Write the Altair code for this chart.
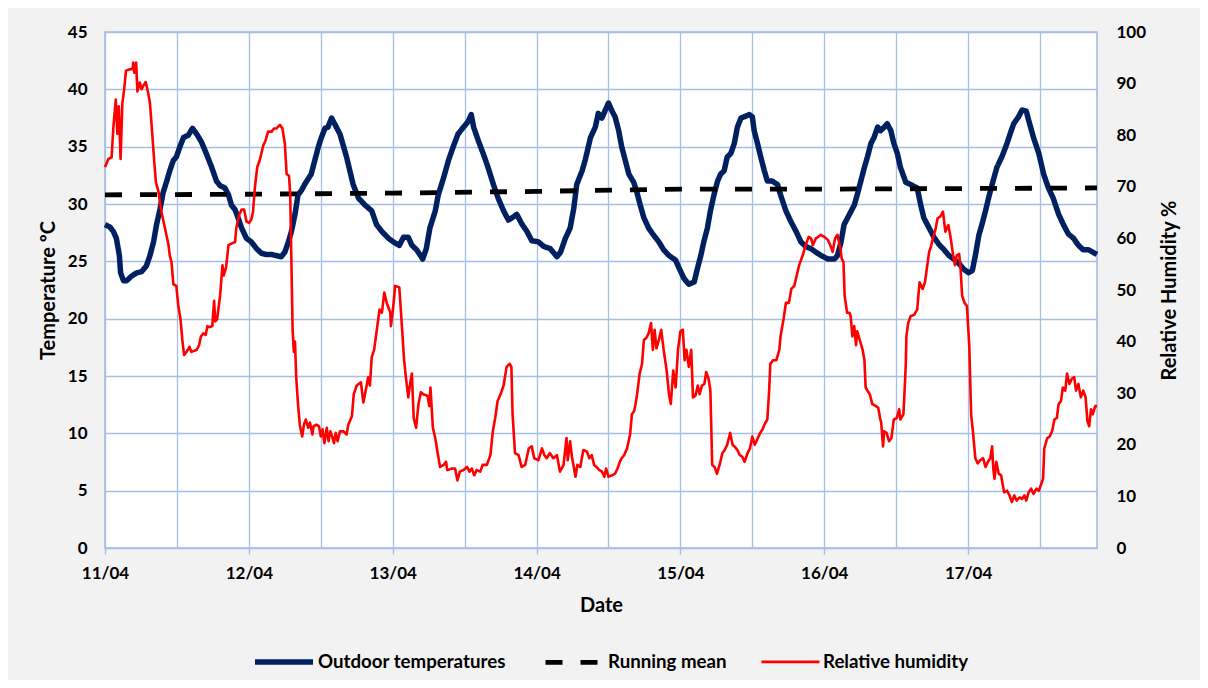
import json
import altair as alt
import pandas as pd

# ---------------- data (hours since 11/04 00:00) ----------------
TEMP_H = [
    0, 0.8, 1.4, 1.9, 2.4, 2.6, 3.1, 3.6, 4.4, 5.3,
    6.1, 6.9, 7.5, 8.1, 8.6, 9.2, 9.7, 10.3, 10.8, 11.4,
    11.9, 12.5, 13.1, 13.9, 14.6, 15.3, 16.1, 16.9, 17.8, 18.6,
    19.2, 20, 20.6, 21.1, 21.7, 22.2, 22.8, 23.6, 24.4, 25.3,
    26.1, 26.9, 27.8, 28.6, 29.4, 30, 30.6, 31.1, 31.7, 32.2,
    32.8, 33.3, 33.9, 34.4, 35, 35.6, 36.1, 36.7, 37.2, 37.8,
    38.3, 39.2, 40.3, 41.4, 42.3, 43.4, 44.5, 45.3, 46.2, 47.3,
    48.1, 49.1, 49.8, 50.6, 51.2, 52, 53, 53.6, 54.2, 55.1,
    55.6, 56.5, 57.3, 58.1, 58.9, 59.8, 60.6, 61.1, 61.5, 62.3,
    63.1, 63.9, 64.8, 65.6, 66.5, 67.3, 68.2, 68.7, 69.5, 70.4,
    71.2, 72.3, 73.2, 74.3, 75.4, 76, 76.8, 77.6, 78.2, 78.7,
    79.6, 80.1, 81,
    81.8, 82.3, 82.9, 83.4, 84, 84.6, 85.1, 85.7, 86.2, 86.8,
    87.4, 88.2, 88.7, 89.3, 89.9, 90.7, 91.5, 92.4, 93.2, 94.1,
    95.2, 95.7, 96.6, 97.4, 98.3, 98.8, 99.4, 99.9, 100.5, 101,
    101.6, 102.2, 102.7, 103.3, 103.8, 104.4, 105, 105.5, 106.1, 106.6,
    107.5, 108, 108.3, 108.8, 109.4, 110, 110.5, 111.3, 112.2, 112.7,
    113.6, 114.4, 115.3, 116.1, 116.9, 117.8, 118.6, 119.5,
    120.6, 121.7, 122.2, 122.8, 123.3, 124.2, 125, 125.5, 126.1, 126.7,
    127.2, 127.8, 128.3, 128.9, 129.4, 130, 130.5, 131.1, 131.6, 132.2,
    132.7, 133.6, 134.4, 135.5, 136.1, 136.6, 137.5, 138.3, 139.1, 140,
    140.8, 141.6, 142.5, 143.3, 144.1, 144.7, 145.2, 145.8, 146.3, 146.9,
    147.4, 148, 148.8, 149.7, 150.5, 151, 151.6, 152.4, 153, 153.7,
    154.1, 154.9, 155.8, 156.6, 157.4, 158.2, 159.1, 159.9, 160.7, 161.6,
    162.4, 163.2, 164.1, 165.5,
]
TEMP_V = [
    28.2, 28.0, 27.6, 27.0, 25.5, 24.0, 23.3, 23.3, 23.7, 24.0,
    24.1, 24.6, 25.5, 26.7, 28.2, 29.6, 31.0, 32.0, 32.9, 33.8,
    34.1, 35.0, 35.8, 36.0, 36.6, 36.1, 35.4, 34.4, 33.2, 32.0,
    31.6, 31.4, 30.8, 29.9, 29.5, 28.8, 27.9, 27.0, 26.7, 26.1,
    25.7, 25.6, 25.6, 25.5, 25.4, 25.8, 26.7, 27.6, 29.1, 30.8,
    31.2, 31.7, 32.2, 32.6, 33.8, 35.0, 35.8, 36.6, 36.7, 37.5,
    37.0, 36.1, 34.1, 31.7, 30.5, 29.9, 29.4, 28.2, 27.6, 27.0,
    26.7, 26.4, 27.1, 27.1, 26.4, 26.0, 25.2, 26.1, 27.9, 29.4,
    30.8, 32.3, 33.8, 35.0, 36.1, 36.7, 37.2, 37.8, 36.7, 35.5,
    34.4, 33.2, 31.7, 30.5, 29.4, 28.6, 28.9, 29.1, 28.3, 27.6,
    26.8, 26.7, 26.3, 26.1, 25.4, 25.8, 27.0, 27.9, 29.6, 31.7,
    32.9, 33.8, 35.8,
    36.7, 37.9, 37.5, 38.1, 38.8, 38.1, 37.6, 36.4, 35.0, 33.8,
    32.6, 31.9, 31.1, 29.9, 28.8, 27.9, 27.3, 26.7, 26.0, 25.5,
    25.1, 24.5, 23.5, 23.0, 23.2, 24.3, 25.5, 26.7, 27.9, 29.4,
    30.8, 32.0, 32.6, 32.9, 34.1, 34.4, 35.3, 36.7, 37.5, 37.6,
    37.8, 37.6, 36.4, 35.4, 34.1, 32.9, 32.0, 32.0, 31.7, 30.8,
    29.4, 28.5, 27.6, 26.7, 26.3, 26.1, 25.8, 25.5,
    25.2, 25.2, 25.5, 26.7, 28.2, 29.1, 29.9, 30.8, 32.0, 33.2,
    34.1, 35.3, 35.8, 36.7, 36.4, 36.7, 37.0, 36.4, 35.3, 34.4,
    33.2, 31.9, 31.7, 31.4, 29.9, 28.8, 27.9, 27.1, 26.5, 26.0,
    25.5, 25.2, 24.8, 24.3, 24.0, 24.2, 25.5, 27.3, 28.2, 29.4,
    30.5, 31.7, 33.2, 34.2, 35.3, 36.1, 37.0, 37.6, 38.2, 38.1,
    37.3, 35.8, 34.4, 32.6, 31.4, 30.5, 29.1, 28.2, 27.4, 27.0,
    26.4, 26.0, 26.0, 25.6,
]

MEAN_H = [0, 24, 48, 72, 96, 120, 144, 165.5]
MEAN_V = [30.8, 30.85, 30.95, 31.1, 31.3, 31.3, 31.35, 31.4]

RH_H = [
    0, 0.56, 1.1, 1.4, 1.8, 2.06, 2.3, 2.6, 2.9, 3.2,
    3.5, 4.2, 4.6, 4.7, 4.9, 5.2, 5.4, 5.8, 6.1, 6.5,
    6.8, 7.2, 7.5, 7.8, 8.2, 8.5, 8.9, 9.4, 10, 10.6,
    10.8, 11.1, 11.4, 11.9, 12.2, 12.6, 12.9, 13.2, 13.6, 14.1,
    14.4, 15.3, 15.7, 16, 16.4, 16.8, 17.1, 17.5, 17.9, 18.2,
    18.4, 18.7, 19.2, 19.6, 19.8, 20.2, 20.6, 21.1, 21.7, 21.9,
    22.4, 22.8, 23.2, 23.6, 24, 24.4, 24.7, 25, 25.4, 25.8,
    26.4, 26.8, 27.2, 27.8, 28.2, 28.6, 29.2, 29.6, 30, 30.3,
    30.7, 30.9, 31.1, 31.3, 31.5, 31.7, 31.9, 32.2, 32.5, 32.9,
    33.2, 33.5, 33.9, 34.2, 34.6, 34.8, 35.3, 35.7, 36, 36.3,
    36.6, 37, 37.3, 37.6, 37.9, 38.2, 38.5, 38.8, 39.2,
    39.8, 40.3, 40.6, 41.2, 41.5, 42, 42.7, 43.1, 43.5, 43.9,
    44.2, 44.5, 44.9, 45.2, 45.5, 45.8, 46.2, 46.6, 47, 47.6,
    47.7, 48.1, 48.4, 49.1, 49.5, 49.9, 50.2, 50.6, 50.9, 51.2,
    51.5, 51.9, 52.3, 52.7, 53.1, 53.8, 54.1, 54.3, 54.7, 55.1,
    55.5, 55.9, 56.5, 56.9, 57.1, 57.9, 58.4, 58.8, 59.2, 59.8,
    60.4, 60.8, 61.2, 61.6, 62, 62.6, 63, 63.7, 64.3, 64.7,
    65.1, 65.5, 66, 66.5, 67, 67.5, 67.8, 68, 68.4, 69,
    69.5, 70.1, 70.7, 71.2, 71.6, 72.3, 72.9, 73.3, 73.7, 74.2,
    74.8, 75.4, 75.9, 76.5, 77, 77.2, 77.6, 77.9, 78.5, 78.8,
    79.3,
    79.8, 80.4, 80.8, 81.2, 81.6, 82, 82.5, 82.9, 83.3, 83.6,
    84, 84.6, 85.1, 85.5, 85.9, 86.2, 86.6, 87.1, 87.6, 87.9,
    88.3, 88.7, 89.2, 89.6, 89.9, 90.3, 90.7, 91.1, 91.4, 91.7,
    92, 92.4, 92.8, 93.2, 93.7, 94.1, 94.4, 94.8, 95.2, 95.6,
    96, 96.4, 96.7, 97, 97.4, 97.8, 98.1, 98.5, 98.9, 99.2,
    99.6, 100, 100.3, 100.7, 101, 101.3, 101.7, 102.1, 102.6, 103,
    103.4, 103.8, 104.3, 104.7, 105, 105.5, 105.9, 106.3, 106.7, 107.2,
    107.6, 108, 108.4, 108.8, 109.3, 109.7, 110, 110.5, 110.8, 111,
    111.5, 112, 112.5, 112.7, 113.2, 113.6, 114.1, 114.5, 115, 115.4,
    115.8, 116.4, 116.9, 117.4, 117.8, 118.1, 118.6, 119,
    119.4, 120, 120.6, 121, 121.4, 121.8, 122.2, 122.7, 122.9, 123.2,
    123.4, 123.8, 124.2, 124.4, 124.7, 125, 125.3, 125.5, 126, 126.4,
    126.7, 126.9, 127.2, 127.6, 128, 128.6, 129, 129.3, 129.5, 129.8,
    130, 130.4, 130.8, 131.2, 131.6, 132.1, 132.5, 132.7, 133.2, 133.4,
    133.6, 133.7, 134, 134.4, 135, 135.5, 135.9, 136.4, 136.8, 137.1,
    137.5, 137.8, 138.1, 138.3, 138.6, 138.9, 139.4, 139.8, 140.2, 140.7,
    141.1, 141.5, 141.8, 142.1, 142.5, 142.7, 143, 143.4, 143.8, 144.2,
    144.5, 144.8, 145.2, 145.6, 146, 146.5, 146.9, 147.3, 147.7, 148,
    148.2, 148.4, 148.7, 149.1, 149.5, 149.8, 150, 150.5, 150.9, 151.3,
    151.7, 152.1, 152.6, 153, 153.4, 153.7, 154.1, 154.5, 154.9, 155.4,
    155.8, 156.1, 156.5, 156.7, 157.2, 157.6, 158, 158.4, 158.8, 159.1,
    159.5, 159.8, 160.2, 160.5, 160.9, 161.3, 161.7, 162, 162.4, 162.8,
    163.2, 163.6, 163.9, 164.2, 164.5, 164.8, 165.2, 165.5,
]
RH_V = [
    73.8, 75.4, 75.7, 81.6, 86.9, 80.3, 85.6, 75.4, 86.2, 88.9,
    92.5, 92.8, 92.8, 94.1, 92.1, 94.1, 88.5, 90.2, 88.9, 89.8,
    90.3, 88.2, 86.2, 81.6, 75.1, 70.8, 69.2, 65.2, 62.0, 58.7,
    56.7, 55.4, 51.1, 50.8, 47.2, 44.3, 40.3, 37.4, 38.0, 39.0,
    38.0, 38.4, 39.3, 41.0, 41.6, 41.3, 43.0, 42.8, 43.0, 47.9,
    43.9, 44.3, 48.9, 54.8, 52.8, 54.4, 58.7, 59.0, 59.3, 62.0,
    64.6, 65.6, 65.6, 63.3, 63.0, 63.6, 65.2, 69.8, 73.8, 75.1,
    78.0, 79.0, 80.7, 80.7, 81.3, 81.3, 82.0, 81.3, 78.4, 72.5,
    72.1, 68.5, 55.4, 42.3, 38.0, 40.0, 33.1, 27.9, 23.9, 21.6,
    23.9, 24.9, 23.3, 24.3, 22.0, 23.6, 23.9, 23.6, 21.6, 23.0,
    20.3, 23.3, 20.7, 22.6, 21.6, 20.3, 22.3, 20.7, 22.6,
    22.6, 22.0, 23.9, 25.6, 29.8, 31.5, 32.1, 28.2, 30.5, 33.1,
    31.5, 37.0, 38.4, 41.0, 43.6, 46.2, 45.6, 49.5, 47.5, 45.6,
    43.0, 46.9, 50.8, 50.5, 43.6, 36.4, 33.1, 29.2, 31.8, 33.8,
    25.2, 23.3, 27.9, 30.2, 29.8, 29.5, 27.5, 31.1, 23.3, 21.3,
    18.4, 15.7, 16.1, 16.7, 15.1, 15.4, 15.4, 13.1, 14.8, 15.1,
    15.7, 14.8, 15.4, 14.1, 15.1, 14.8, 16.1, 16.1, 18.0, 22.6,
    25.2, 28.5, 29.8, 31.5, 35.1, 35.7, 35.1, 25.9, 18.4, 18.0,
    15.7, 16.1, 19.3, 19.7, 17.4, 17.0, 19.3, 18.0, 17.4, 18.4,
    17.4, 18.0, 14.8, 16.1, 21.3, 17.0, 20.7, 17.7, 13.8, 16.1,
    15.7,
    19.0, 18.7, 17.4, 18.0, 16.1, 15.7, 15.1, 14.8, 13.8, 15.4,
    13.8, 14.1, 14.4, 15.4, 16.7, 17.4, 18.0, 19.3, 22.0, 25.9,
    26.6, 29.2, 33.8, 35.7, 40.3, 40.7, 41.6, 43.6, 38.4, 42.3,
    38.7, 40.3, 42.3, 38.4, 34.4, 29.8, 27.9, 34.4, 31.1, 38.4,
    42.0, 42.3, 36.4, 38.4, 35.1, 38.4, 29.2, 29.5, 31.5, 29.8,
    31.5, 31.8, 34.1, 32.8, 30.5, 16.1, 15.7, 14.4, 16.4, 18.4,
    19.0, 20.0, 22.3, 20.0, 19.7, 19.0, 18.0, 17.7, 16.7, 18.4,
    19.3, 21.6, 20.0, 21.0, 22.3, 23.0, 23.9, 24.9, 30.5, 35.7,
    36.4, 36.4, 38.4, 41.0, 44.3, 47.5, 47.5, 50.2, 50.8, 52.8,
    54.8, 56.7, 58.7, 60.3, 60.0, 58.7, 60.0, 60.3,
    60.7, 60.3, 59.7, 58.7, 57.4, 60.0, 60.7, 58.0, 56.1, 55.4,
    48.9, 45.6, 45.6, 44.9, 41.0, 43.0, 39.3, 42.0, 40.0, 38.4,
    36.4, 31.1, 30.5, 29.8, 27.9, 27.5, 27.2, 25.2, 24.3, 19.7,
    22.6, 22.3, 20.7, 21.3, 24.9, 25.2, 26.9, 24.9, 25.9, 30.5,
    35.7, 41.0, 43.6, 44.9, 45.2, 46.2, 51.5, 50.2, 51.5, 54.1,
    57.4, 58.4, 60.0, 60.7, 62.0, 63.9, 64.3, 65.2, 61.3, 62.6,
    60.0, 56.7, 54.8, 56.7, 57.0, 54.8, 48.9, 47.5, 46.9, 39.0,
    25.9, 22.6, 17.4, 16.4, 17.0, 17.4, 15.7, 16.7, 17.4, 19.7,
    15.4, 13.4, 16.7, 14.4, 14.1, 12.1, 10.8, 11.1, 10.2, 8.9,
    10.2, 9.2, 9.8, 9.5, 10.2, 9.2, 10.8, 11.5, 10.5, 11.5,
    11.1, 12.1, 13.4, 19.3, 21.3, 21.6, 22.6, 24.9, 25.2, 27.9,
    28.5, 31.1, 30.5, 33.8, 31.8, 32.8, 33.1, 30.5, 31.8, 29.2,
    30.5, 29.2, 24.6, 23.6, 26.9, 25.9, 27.5, 27.5,
]

SERIES = ["Outdoor temperatures", "Running mean", "Relative humidity"]
COLORS = ["#002060", "#000000", "#ff0000"]
DASHES = [[1, 0], [17, 18], [1, 0]]
WIDTHS = [5.5, 4.8, 2.6]
DAY_LABELS = ["11/04", "12/04", "13/04", "14/04", "15/04", "16/04", "17/04"]
TEMP_TICKS = [0, 5, 10, 15, 20, 25, 30, 35, 40, 45]
RH_TICKS = [0, 10, 20, 30, 40, 50, 60, 70, 80, 90, 100]
X_GRID = [0, 12, 24, 36, 48, 60, 72, 84, 96, 108, 120, 132, 144, 156]

assert len(TEMP_H) == len(TEMP_V), (len(TEMP_H), len(TEMP_V))
assert len(RH_H) == len(RH_V), (len(RH_H), len(RH_V))

left_df = pd.concat([
    pd.DataFrame({"h": TEMP_H, "v": TEMP_V, "series": SERIES[0]}),
    pd.DataFrame({"h": MEAN_H, "v": MEAN_V, "series": SERIES[1]}),
])
rh_df = pd.DataFrame({"h": RH_H, "v": RH_V, "series": SERIES[2]})

FONT = "Lato"
GRID = "#a7bfe7"

legend = alt.Legend(
    title=None, orient="none", direction="horizontal",
    legendX=147, legendY=598,
    symbolType="stroke", symbolSize=3364,
    labelFont=FONT, labelFontSize=18.7, labelFontWeight="bold", labelColor="black",
    labelOffset=2, columnPadding=29, labelLimit=400,
)
color = alt.Color("series:N", scale=alt.Scale(domain=SERIES, range=COLORS), legend=legend)
dash = alt.StrokeDash("series:N", scale=alt.Scale(type="ordinal", domain=SERIES, range=DASHES), legend=legend)
width = alt.StrokeWidth("series:N", scale=alt.Scale(type="ordinal", domain=SERIES, range=WIDTHS), legend=legend)

label_expr = f"datum.value % 24 === 0 ? {json.dumps(DAY_LABELS)}[datum.value / 24] : ''"
x = alt.X(
    "h:Q",
    scale=alt.Scale(domain=[0, 165.5], nice=False, zero=False),
    axis=alt.Axis(
        values=X_GRID, labelExpr=label_expr, title="Date",
        grid=True, gridColor=GRID, gridWidth=1.3, domain=False,
        ticks=True, tickSize=6, tickColor=GRID, tickWidth=1.5,
        tickOpacity={"condition": {"test": "datum.value % 24 === 0", "value": 1}, "value": 0},
        labelFont=FONT, labelFontSize=17, labelFontWeight="bold", labelColor="black",
        labelPadding=11, labelFlush=False, labelOverlap=False,
        titleFont=FONT, titleFontSize=20, titleFontWeight="bold", titleColor="black",
        titlePadding=14,
    ),
)

left = alt.Chart(left_df).mark_line(strokeJoin="round", interpolate="linear").encode(
    x=x,
    y=alt.Y(
        "v:Q",
        scale=alt.Scale(domain=[0, 45], nice=False),
        axis=alt.Axis(
            values=TEMP_TICKS, title="Temperature ºC", grid=True, gridColor=GRID, gridWidth=1.3,
            domain=False, ticks=False, tickSize=0,
            labelFont=FONT, labelFontSize=17, labelFontWeight="bold", labelColor="black",
            labelPadding=18,
            titleFont=FONT, titleFontSize=20, titleFontWeight="bold", titleColor="black",
            titlePadding=9,
        ),
    ),
    color=color, strokeDash=dash, strokeWidth=width,
    order=alt.Order("h:Q"),
)

right = alt.Chart(rh_df).mark_line(strokeJoin="round").encode(
    x=x,
    y=alt.Y(
        "v:Q",
        scale=alt.Scale(domain=[0, 100], nice=False),
        axis=alt.Axis(
            values=RH_TICKS, orient="right", title="Relative Humidity %", grid=False,
            domain=False, ticks=False, tickSize=0,
            labelFont=FONT, labelFontSize=17, labelFontWeight="bold", labelColor="black",
            labelPadding=19,
            titleFont=FONT, titleFontSize=20, titleFontWeight="bold", titleColor="black",
            titlePadding=34, titleAngle=270,
        ),
    ),
    color=color, strokeDash=dash, strokeWidth=width,
    order=alt.Order("h:Q"),
)

chart = alt.layer(left, right).resolve_scale(y="independent").properties(
    width=992, height=516,
    autosize=alt.AutoSizeParams(type="none"),
    padding={"left": 97, "top": 24, "right": 103, "bottom": 132},
    background="#f2f2f2",
).configure_view(
    fill="white", stroke="#9fb8e3", strokeWidth=1.5,
)

chart.save("out.html", embed_options={"renderer": "svg", "actions": False})
